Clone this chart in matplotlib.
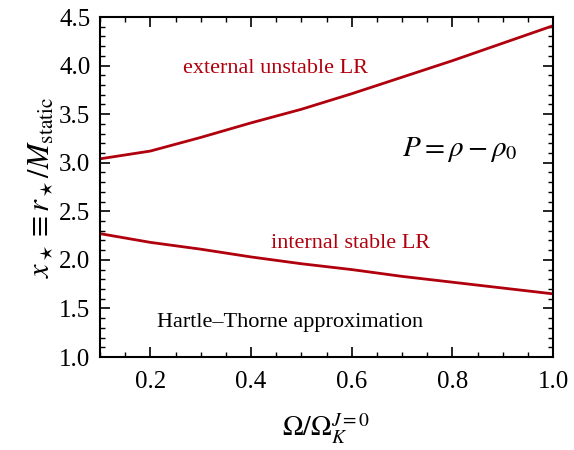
import matplotlib.pyplot as plt
from matplotlib.ticker import MultipleLocator

plt.rcParams["font.family"] = "serif"
plt.rcParams["font.serif"] = ["Liberation Serif", "DejaVu Serif"]
plt.rcParams["mathtext.fontset"] = "stix"

omega = [0.1, 0.2, 0.3, 0.4, 0.5, 0.6, 0.7, 0.8, 0.9, 1.0]
external_lr = [3.04, 3.12, 3.26, 3.41, 3.55, 3.71, 3.88, 4.05, 4.23, 4.41]
internal_lr = [2.27, 2.18, 2.11, 2.03, 1.96, 1.90, 1.83, 1.77, 1.71, 1.65]

RED = "#b0000d"

fig = plt.figure(figsize=(5.74, 4.5), dpi=100)
ax = fig.add_axes([100 / 574, 93 / 450, 453 / 574, 340 / 450])

ax.plot(omega, external_lr, color=RED, lw=2)
ax.plot(omega, internal_lr, color=RED, lw=2)

ax.set_xlim(0.1, 1.0)
ax.set_ylim(1.0, 4.5)
ax.xaxis.set_major_locator(MultipleLocator(0.2))
ax.xaxis.set_minor_locator(MultipleLocator(0.05))
ax.yaxis.set_major_locator(MultipleLocator(0.5))
ax.yaxis.set_minor_locator(MultipleLocator(0.1))
ax.tick_params(which="both", direction="in", top=True, right=True, labelsize=18, pad=7)
ax.tick_params(axis="x", which="both", pad=10)
ax.tick_params(which="major", length=7, width=1.2)
ax.tick_params(which="minor", length=3.5, width=1)
for s in ax.spines.values():
    s.set_linewidth(1.5)

ax.set_xlabel(r"$\Omega/\Omega_K^{J=0}$", fontsize=20, labelpad=14)
ax.set_ylabel(r"$x_\star \equiv r_\star/M_{\rm static}$", fontsize=22, labelpad=2)

ax.text(0.448, 3.97, "external unstable LR", color=RED, fontsize=16, ha="center", va="center")
ax.text(0.597, 2.17, "internal stable LR", color=RED, fontsize=16, ha="center", va="center")
ax.text(0.815, 3.14, r"$P = \rho - \rho_0$", fontsize=21, ha="center", va="center")
ax.text(0.477, 1.36, "Hartle\u2013Thorne approximation", fontsize=16, ha="center", va="center")

fig.savefig("out.png", dpi=100)
